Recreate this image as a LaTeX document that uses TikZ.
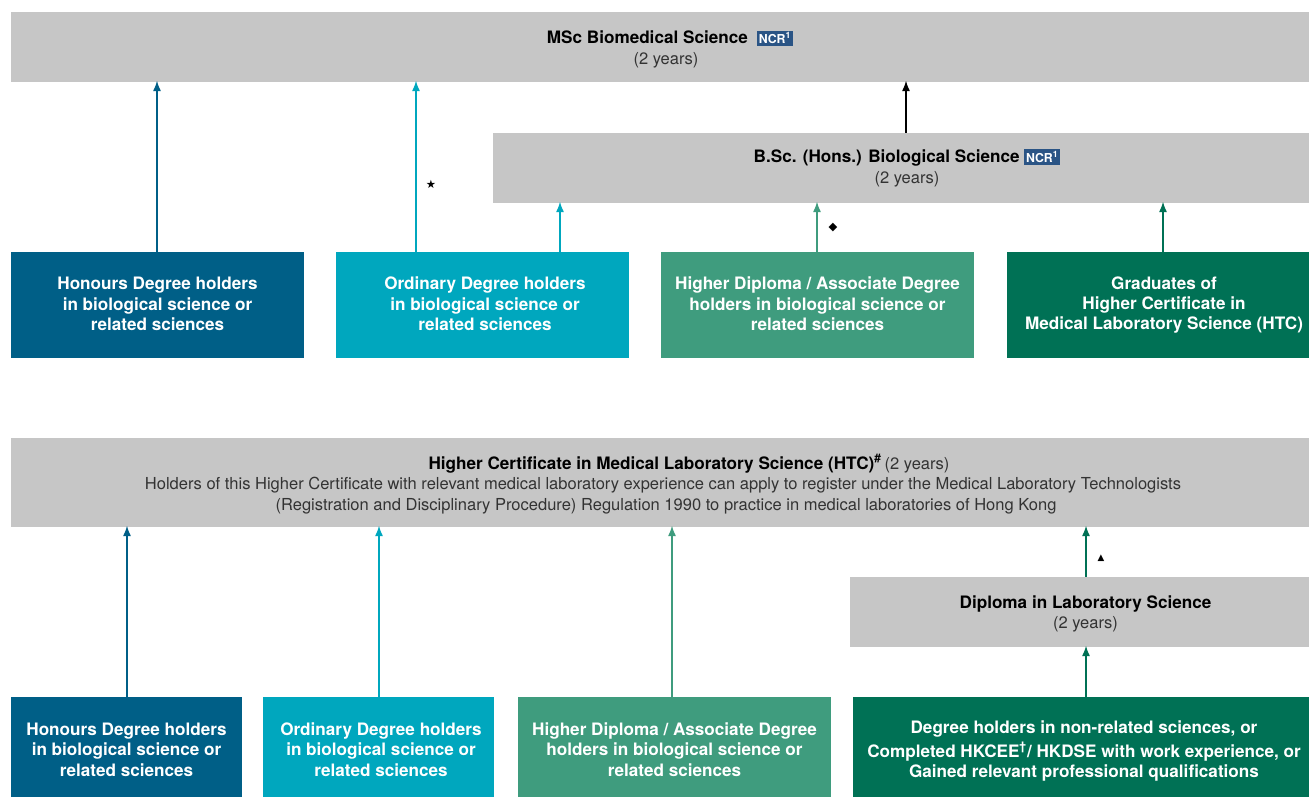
\documentclass[tikz,border=0pt]{standalone}
\usepackage{fontspec}
\setmainfont{TeX Gyre Heros}
\newfontfamily\symfont{DejaVu Sans}
\usetikzlibrary{arrows.meta}
\definecolor{cgrey}{HTML}{C6C6C6}
\definecolor{chon}{HTML}{005F87}
\definecolor{cord}{HTML}{00A7BE}
\definecolor{chd}{HTML}{3F9C7E}
\definecolor{cgrad}{HTML}{007155}
\definecolor{cncr}{HTML}{2A5485}
\definecolor{clight}{HTML}{333333}
\tikzstyle{gbox} = [rectangle, fill=cgrey, minimum height=1.4cm, inner sep=0pt, align=center, font=\fontsize{9.4}{11.6}\selectfont, text=clight]
\tikzstyle{entry} = [rectangle, inner sep=0pt, align=center, text=white, font=\fontsize{9.75}{11.6}\selectfont\bfseries]
\tikzstyle{sign} = [inner sep=0pt, font=\symfont\fontsize{6.5}{7}\selectfont]
\tikzstyle{link} = [line width=0.9pt, shorten >=-1pt, -{Latex[length=6pt,width=4.6pt]}]
\tikzstyle{lhon} = [link, draw=chon]
\tikzstyle{lord} = [link, draw=cord]
\tikzstyle{lhd} = [link, draw=chd]
\tikzstyle{lgrad} = [link, draw=cgrad]
\newcommand{\ncrtag}{{\setlength{\fboxsep}{1pt}\colorbox{cncr}{\textcolor{white}{\fontsize{7}{7}\selectfont\bfseries NCR\textsuperscript{1}}}}}
\newcommand{\hd}[1]{\textcolor{black}{\fontsize{9.75}{11.6}\selectfont\bfseries #1}}
\newcommand{\shft}{\hspace*{0.24cm}}
\newcommand{\tall}[1]{\rule{0pt}{#1}}
\newcommand{\deep}[1]{\rule[-#1]{0pt}{0pt}}
\begin{document}
\begin{tikzpicture}
    \useasboundingbox (0,0) rectangle (26.18,15.94);

    \node at (13.2,15.0) [gbox,minimum width=25.96cm] (msc) {\tall{10.2pt}\hspace*{0.4cm}\hd{MSc Biomedical Science}\ \ \ncrtag\\\shft(2 years)};
    \node at (18.02,12.58) [gbox,minimum width=16.32cm] (bsc) {\shft\hd{B.Sc. (Hons.) Biological Science}\ \ncrtag\\\shft(2 years)};

    \node at (3.15,9.84) [entry,fill=chon,minimum width=5.86cm,minimum height=2.12cm] (hon1) {Honours Degree holders\\in biological science or\\related sciences\deep{1.2pt}};
    \node at (9.65,9.84) [entry,fill=cord,minimum width=5.86cm,minimum height=2.12cm] (ord1) {\hspace*{0.1cm}Ordinary Degree holders\\\hspace*{0.1cm}in biological science or\\\hspace*{0.1cm}related sciences\deep{1.2pt}};
    \node at (16.35,9.84) [entry,fill=chd,minimum width=6.26cm,minimum height=2.12cm] (hd1) {Higher Diploma / Associate Degree\\holders in biological science or\\related sciences\deep{1.2pt}};
    \node at (23.16,9.84) [entry,fill=cgrad,minimum width=6.04cm,minimum height=2.12cm] (grad) {\shft Graduates of\\\shft Higher Certificate in\\\shft Medical Laboratory Science (HTC)};

    \node at (13.2,6.29) [gbox,minimum width=25.96cm,minimum height=1.78cm] (htc) {\tall{10.3pt}\hspace*{1.16cm}\hd{Higher Certificate in Medical Laboratory Science (HTC)\textsuperscript{\#}}\,(2 years)\\\hspace*{0.12cm}Holders of this Higher Certificate with relevant medical laboratory experience can apply to register under the Medical Laboratory Technologists\\\shft(Registration and Disciplinary Procedure) Regulation 1990 to practice in medical laboratories of Hong Kong};
    \node at (21.59,3.7) [gbox,minimum width=9.18cm] (dip) {\tall{9.2pt}\shft\hd{Diploma in Laboratory Science}\\\shft(2 years)};

    \node at (2.53,1.0) [entry,fill=chon,minimum width=4.62cm,minimum height=2cm] (hon2) {\tall{10.3pt}Honours Degree holders\\in biological science or\\related sciences};
    \node at (7.57,1.0) [entry,fill=cord,minimum width=4.62cm,minimum height=2cm] (ord2) {\tall{10.3pt}\hspace*{0.1cm}Ordinary Degree holders\\\hspace*{0.1cm}in biological science or\\\hspace*{0.1cm}related sciences};
    \node at (13.49,1.0) [entry,fill=chd,minimum width=6.26cm,minimum height=2cm] (hd2) {\tall{10.3pt}Higher Diploma / Associate Degree\\holders in biological science or\\related sciences};
    \node at (21.62,1.0) [entry,fill=cgrad,minimum width=9.12cm,minimum height=2cm] (deg) {\tall{12.1pt}\hspace*{0.12cm}Degree holders in non-related sciences, or\\[1.7pt]\hspace*{0.12cm}Completed HKCEE\textsuperscript{†}/ HKDSE with work experience, or\\\hspace*{0.12cm}Gained relevant professional qualifications};

    \node at (8.62,12.26) [sign] (star) {★};
    \node at (16.66,11.38) [sign] (diam) {◆};
    \node at (22.02,4.77) [sign,font=\symfont\fontsize{5}{6}\selectfont] (tri) {▲};

    \draw[lhon] ([xshift=-0.01cm]hon1.north) -- ([xshift=-0.01cm]hon1.north |- msc.south);
    \draw[lord] ([xshift=-1.33cm]ord1.north) -- ([xshift=-1.33cm]ord1.north |- msc.south);
    \draw[lord] ([xshift=1.55cm]ord1.north) -- ([xshift=1.55cm]ord1.north |- bsc.south);
    \draw[lhd] ([xshift=-0.01cm]hd1.north) -- ([xshift=-0.01cm]hd1.north |- bsc.south);
    \draw[lgrad] ([xshift=0.1cm]grad.north) -- ([xshift=0.1cm]grad.north |- bsc.south);
    \draw[link] ([xshift=0.1cm]bsc.north) -- ([xshift=0.1cm]bsc.north |- msc.south);

    \draw[lhon] ([xshift=0.01cm]hon2.north) -- ([xshift=0.01cm]hon2.north |- htc.south);
    \draw[lord] ([xshift=0.01cm]ord2.north) -- ([xshift=0.01cm]ord2.north |- htc.south);
    \draw[lhd] ([xshift=-0.05cm]hd2.north) -- ([xshift=-0.05cm]hd2.north |- htc.south);
    \draw[lgrad] ([xshift=0.1cm]deg.north) -- ([xshift=0.1cm]deg.north |- dip.south);
    \draw[lgrad] ([xshift=0.13cm]dip.north) -- ([xshift=0.13cm]dip.north |- htc.south);

    \end{tikzpicture}
\end{document}
